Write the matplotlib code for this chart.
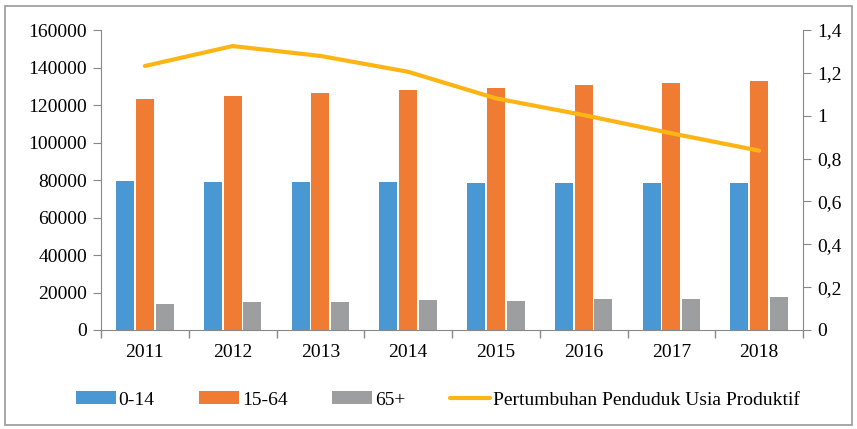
import matplotlib
matplotlib.use("Agg")
import matplotlib.pyplot as plt
import numpy as np
from matplotlib.patches import Rectangle

years = ["2011", "2012", "2013", "2014", "2015", "2016", "2017", "2018"]
age_0_14 = [79600, 78800, 78800, 78800, 78500, 78500, 78500, 78500]
age_15_64 = [123000, 124600, 126400, 128200, 129200, 130800, 131700, 132600]
age_65 = [14000, 14900, 14900, 15800, 15600, 16500, 16500, 17600]
growth = [1.232, 1.325, 1.279, 1.205, 1.081, 1.003, 0.918, 0.837]

left_ticks = [0, 20000, 40000, 60000, 80000, 100000, 120000, 140000, 160000]
right_ticks = [0, 0.2, 0.4, 0.6, 0.8, 1.0, 1.2, 1.4]
right_labels = ["0", "0,2", "0,4", "0,6", "0,8", "1", "1,2", "1,4"]

plt.rcParams['font.family'] = ['Liberation Serif', 'DejaVu Serif']
FS = 14

fig = plt.figure(figsize=(8.57, 4.29), dpi=100)
ax = fig.add_axes([101/857, 1 - 330/429, (803-101)/857, 300/429])
ax2 = ax.twinx()

x = np.arange(len(years))
w = 0.205
gap = 0.02
c_blue, c_orange, c_gray, c_line = '#4a98d3', '#f07b32', '#9d9ea0', '#fdb515'
ax.bar(x - w - gap, age_0_14, w, color=c_blue, label='0-14', zorder=2)
ax.bar(x, age_15_64, w, color=c_orange, label='15-64', zorder=2)
ax.bar(x + w + gap, age_65, w, color=c_gray, label='65+', zorder=2)
ax2.plot(x, growth, color=c_line, lw=3, label='Pertumbuhan Penduduk Usia Produktif',
         solid_capstyle='round')

ax.set_xlim(-0.5, len(years) - 0.5)
ax.set_ylim(0, 160000)
ax2.set_ylim(0, 1.4)
ax.set_yticks(left_ticks)
ax.set_yticklabels([str(v) for v in left_ticks], fontsize=FS)
ax2.set_yticks(right_ticks)
ax2.set_yticklabels(right_labels, fontsize=FS)

ax.set_xticks(x)
ax.set_xticklabels(years, fontsize=FS)
ax.tick_params(axis='x', length=0, pad=10)
ax.set_xticks(np.arange(len(years) + 1) - 0.5, minor=True)
ax.tick_params(axis='x', which='minor', length=6, color='#888888', width=1)

sc = '#888888'
for a in (ax, ax2):
    a.spines['top'].set_visible(False)
    for s in ('left', 'right', 'bottom'):
        a.spines[s].set_color(sc)
ax.spines['right'].set_visible(False)
ax2.spines['left'].set_visible(False)
ax2.spines['bottom'].set_visible(False)
ax.tick_params(axis='y', length=6, color=sc, pad=4)
ax2.tick_params(axis='y', length=6, color=sc, pad=4)

h1, l1 = ax.get_legend_handles_labels()
h2, l2 = ax2.get_legend_handles_labels()
leg = fig.legend(h1 + h2, l1 + l2, loc='center', bbox_to_anchor=(0.511, 1 - 400/429),
                 ncol=4, frameon=False, fontsize=FS, handlelength=2.05, handleheight=0.6,
                 columnspacing=2.3, handletextpad=0.15)

fig.patches.append(Rectangle((5/857, 4/429), 847/857, 419/429, transform=fig.transFigure,
                             fill=False, edgecolor='#999999', lw=1.2))

fig.savefig('out.png', dpi=100)
